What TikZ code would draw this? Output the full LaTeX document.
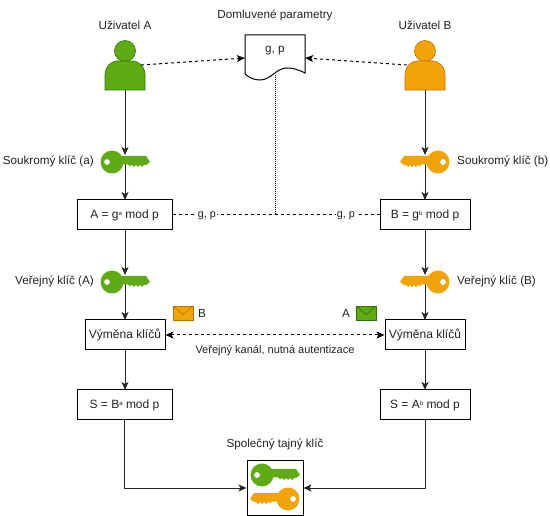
\documentclass[tikz,border=0pt]{standalone}
\usepackage{fontspec}
\setmainfont{Liberation Sans}
\usetikzlibrary{arrows.meta}
\definecolor{grn}{HTML}{60A917}
\definecolor{grnd}{HTML}{2D7600}
\definecolor{org}{HTML}{F0A30A}
\definecolor{orgd}{HTML}{BD7000}
\definecolor{txt}{HTML}{222222}
\tikzset{
  x=1pt,y=-1pt,
  box/.style={draw=black,line width=1pt,fill=white,minimum height=30pt,inner sep=0pt,font=\fontsize{12}{14}\selectfont,text=txt},
  wbox/.style={box,minimum width=95pt},
  nbox/.style={box,minimum width=80pt},
  lbl/.style={font=\fontsize{11.7}{14}\selectfont,text=txt,inner sep=0pt},
  small/.style={font=\fontsize{11}{13}\selectfont,text=txt,inner sep=0pt},
  tiny/.style={font=\fontsize{10.8}{12}\selectfont,text=txt,inner sep=0pt},
  con/.style={draw=black!85,line width=1pt,-{Stealth[length=8pt,width=7pt,inset=2pt]}},
  dcon/.style={draw=black,line width=1pt,dash pattern=on 3pt off 3pt},
  tip/.style={-{Stealth[length=8pt,width=7pt,inset=2pt]}},
  bitip/.style={{Stealth[length=8pt,width=7pt,inset=2pt]}-{Stealth[length=8pt,width=7pt,inset=2pt]}},
  anchorpt/.style={inner sep=0pt,minimum size=0pt},
}
% key: head at local origin, bit pointing in direction #3 (1 right, -1 left)
\newcommand{\keyat}[4]{%
  \begin{scope}[shift={(#1,#2)},xscale=#3]
    \fill[#4,even odd rule]
      (0,0) circle[radius=11.5] (-5,0) circle[radius=3];
    \fill[#4] (7,-6) -- (34,-6) -- (38,0) -- (34,3) -- (32,3) -- (30,5) -- (28,3) -- (26,5) -- (24,3)
      -- (22,5) -- (20,3) -- (18,4) -- (16,2.5) -- (7,2.5) -- cycle;
  \end{scope}}
\newcommand{\userat}[4]{%
  \begin{scope}[shift={(#1,#2)}]
    \draw[fill=#3,draw=#4,line width=.6pt] (0,-24) circle[radius=10.5];
    \draw[fill=#3,draw=#4,line width=.6pt] (-20,15) -- (-20,0) .. controls (-20,-9) and (-13,-14) .. (-8,-14)
      -- (8,-14) .. controls (13,-14) and (20,-9) .. (20,0) -- (20,15) -- cycle;
  \end{scope}}
\newcommand{\envat}[4]{%
  \begin{scope}[shift={(#1,#2)}]
    \draw[fill=#3,draw=#4,line width=.6pt] (-10,-7) rectangle (10,7);
    \draw[draw=#4,line width=.6pt] (-10,-7) -- (0,1.5) -- (10,-7);
  \end{scope}}
\begin{document}
\begin{tikzpicture}
\useasboundingbox (0,0) rectangle (550,516);
\fill[white] (0,0) rectangle (550,516);

% anchors for the glyph-like shapes
\node[anchorpt] (userA) at (125,75) {};
\node[anchorpt] (userB) at (425,75) {};
\node[anchorpt] (userAe) at (141,65) {};
\node[anchorpt] (userBw) at (407,65) {};
\node[anchorpt] (keyA1) at (125,162) {};
\node[anchorpt] (keyB1) at (425,162) {};
\node[anchorpt] (keyA2) at (125,282) {};
\node[anchorpt] (keyB2) at (425,282) {};
\node[anchorpt] (docw) at (245,58) {};
\node[anchorpt] (doce) at (305,58) {};
\node[anchorpt] (docs) at (275,75) {};
\coordinate (mid) at (275,215);

% connectors under shapes
\draw[con] (userA) -- (125,155);
\draw[con] (userB) -- (425,155);
\draw[con] (keyA1) -- (125,200);
\draw[con] (keyB1) -- (425,200);
\draw[con] (125,230) -- (125,275);
\draw[con] (425,230) -- (425,275);
\draw[con] (keyA2) -- (125,320);
\draw[con] (keyB2) -- (425,320);
\draw[con] (125,350) -- (125,390);
\draw[con] (425,350) -- (425,390);

% boxes
\node[wbox] (a) at (124.5,215) {A = g\raisebox{2.5pt}{\fontsize{6}{6}\selectfont a} mod p};
\node[box,minimum width=90pt] (b) at (425,215) {B = g\raisebox{2.5pt}{\fontsize{6}{6}\selectfont b} mod p};
\node[nbox] (va) at (125,335) {Výměna klíčů};
\node[nbox] (vb) at (425,335) {Výměna klíčů};
\node[wbox] (sa) at (124.5,405) {S = B\raisebox{2.5pt}{\fontsize{6}{6}\selectfont a} mod p};
\node[box,minimum width=90pt] (sb) at (425,405) {S = A\raisebox{2.5pt}{\fontsize{6}{6}\selectfont b} mod p};
\node[draw=black,line width=1pt,fill=white,minimum width=56pt,minimum height=54pt,inner sep=0pt] (shared) at (275,488) {};

% users
\userat{125}{75}{grn}{grnd}
\userat{425}{75}{org}{orgd}

% keys
\keyat{112}{162}{1}{grn}
\keyat{438}{162}{-1}{org}
\keyat{112}{282}{1}{grn}
\keyat{438}{282}{-1}{org}
\keyat{262}{475}{1}{grn}
\keyat{288}{499}{-1}{org}

% envelopes
\envat{183}{313}{org}{orgd}
\envat{366}{313}{grn}{grnd}

% document
\draw[line width=1pt,fill=white] (245,35) -- (305,35) -- (305,73) .. controls (297,69) and (292,68) .. (287,68) .. controls (276,68) and (271,80) .. (260,80) .. controls (254,80) and (250,78) .. (245,74) -- cycle;

% dashed connectors
\draw[dcon,tip] (userAe) -- (docw);
\draw[dcon,tip] (userBw) -- (doce);
\draw[line width=1pt,dash pattern=on 1pt off 1pt] (docs) -- (mid);
\draw[dcon] (a.east) -- (b.west);
\draw[dcon,bitip] (va.east) -- (vb.west);

% right-angle connectors to shared box
\draw[con] (sa.south) |- (shared.west);
\draw[con] (sb.south) |- (shared.east);

% labels
\node[tiny,fill=white,inner xsep=1pt] at (207,216) {g, p};
\node[tiny,fill=white,inner xsep=1pt] at (346,216) {g, p};
\node[lbl] at (275,15) {Domluvené parametry};
\node[lbl] at (275,51) {g, p};
\node[lbl] at (125,25) {Uživatel A};
\node[lbl] at (425,25) {Uživatel B};
\node[lbl,anchor=east] at (94,161) {Soukromý klíč (a)};
\node[lbl,anchor=west] at (457,161) {Soukromý klíč (b)};
\node[lbl,anchor=east] at (94,281) {Veřejný klíč (A)};
\node[lbl,anchor=west] at (457,281) {Veřejný klíč (B)};
\node[lbl] at (202,313) {B};
\node[lbl] at (346,313) {A};
\node[small] at (275,351) {Veřejný kanál, nutná autentizace};
\node[lbl] at (275,444) {Společný tajný klíč};
\end{tikzpicture}
\end{document}
